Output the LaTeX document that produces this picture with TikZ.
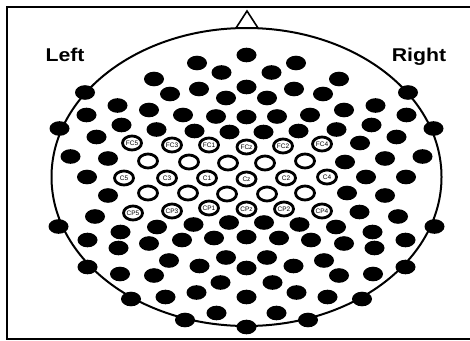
\documentclass[tikz,border=0pt]{standalone}
\usepackage{fontspec}
\setmainfont{Liberation Sans}
\newfontfamily\sidefont[FakeStretch=1.15]{Liberation Sans}
\usetikzlibrary{shapes.geometric}

\begin{document}
\begin{tikzpicture}[x=1pt, y=-1pt,
  blob/.style={x radius=10pt, y radius=7.3pt},
  elec/.style={draw, ellipse, line width=2.8pt, fill=white, inner sep=0pt, minimum width=19pt, minimum height=14pt, font=\fontsize{6.5}{7}\selectfont},
  side/.style={font=\sidefont\bfseries\fontsize{18.5}{20}\selectfont, anchor=base, inner sep=0pt}]
\useasboundingbox (0,0) rectangle (470,340);
\draw[line width=2pt] (470,7) -- (7,7) -- (7,338.5) -- (470,338.5);
\draw[line width=1.6pt, fill=white] (236,28) -- (247,11) -- (258,28) -- cycle;
\draw[line width=2pt] (246.5,177) ellipse [x radius=195pt, y radius=149pt];
\node[side] (left) at (65,61.7) {Left};
\node[side] (right) at (419,61.7) {Right};
\foreach \dx/\y in {49.5/63, 25/72.5, 92.5/79, 47.5/89, 76.5/94, 20.5/98, 161.5/92.5, 129/105.5,
    97.5/110, 63.5/115, 30.5/116.5, 160/115, 187/128.5, 125/125, 90/129.5, 52/131, 17/132,
    150/137, 176/156.5, 138.5/158.5, 159.5/177, 138.5/195.5, 151.5/216.5, 188/226.5, 126/232,
    89.5/227, 53/224.5, 17.5/222.5, 159/240, 128/248, 97.5/243.5, 64.5/240, 32.5/238, 159/267,
    77.5/260.5, 47/266, 20.5/257.5, 126.5/274, 92.5/275.5, 26/282.5, 115.5/299, 81/297,
    50/292.5, 61.5/320, 30/313} {
  \fill ({246.5-\dx},\y) ellipse [blob];
  \fill ({246.5+\dx},\y) ellipse [blob];
}
\foreach \y in {55, 87, 117, 237, 268, 297, 327}
  \fill (246.5,\y) ellipse [blob];
\foreach \dx/\y in {113.5/143, 98.5/162, 119.5/177, 100.5/193, 113/212}
  \fill ({246.5+\dx},\y) ellipse [blob];
\foreach \n/\dx/\y in {FC5/-114.5/143, FC3/-74.5/145, FC1/-37.5/145, FCz/0/147, FC2/36.5/146, FC4/75.5/144,
    C5/-122.5/178, C3/-79.5/178, C1/-39.5/178, Cz/0/179, C2/39.5/178, C4/80.5/177,
    CP5/-113.5/213, CP3/-74.5/211, CP1/-37.5/208, CPz/0/209, CP2/37.5/209, CP4/75.5/211}
  \node[elec] (\n) at ({246.5+\dx},\y) {\n};
\foreach \dx/\y [count=\i] in {-98.5/161, -57.5/162, -18.5/163, 18.5/163, 58.5/161,
    -98.5/193, -58.5/193, -19.5/194, 20.5/194, 58.5/193}
  \node[elec] (w\i) at ({246.5+\dx},\y) {};
\end{tikzpicture}
\end{document}
